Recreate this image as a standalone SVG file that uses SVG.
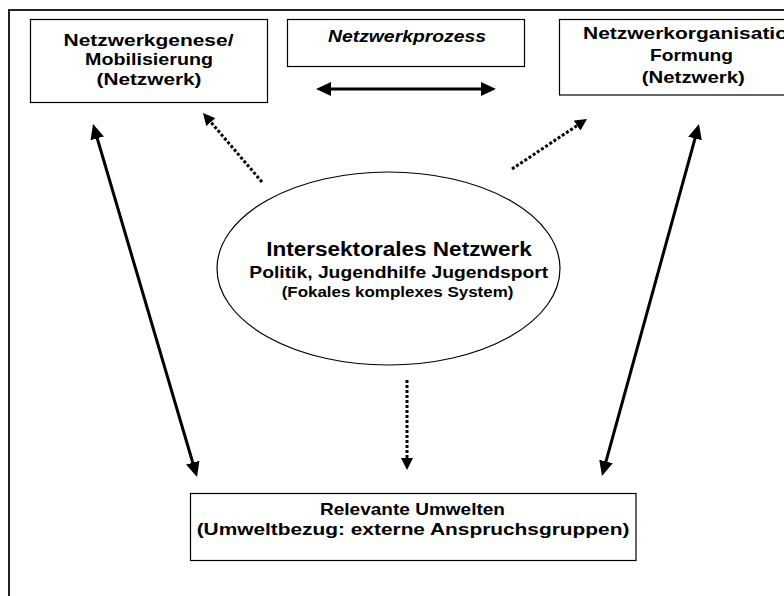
<svg xmlns="http://www.w3.org/2000/svg" width="784" height="596" viewBox="0 0 784 596">
  <style>
    .box { fill: #ffffff; stroke: #000000; stroke-width: 1.2; }
    .frame { fill: none; stroke: #222222; stroke-width: 2; }
    .lbl { font-family: "Liberation Sans", Arial, sans-serif; font-weight: bold; fill: #000000; text-anchor: middle; }
    .solid { stroke: #000000; stroke-width: 3; fill: none; }
    .dotted { stroke: #000000; stroke-width: 3; fill: none; stroke-dasharray: 3 2; }
  </style>
  <defs>
    <marker id="headSolid" markerUnits="userSpaceOnUse" markerWidth="15" markerHeight="14" viewBox="0 0 15 14" refX="3" refY="7" orient="auto-start-reverse">
      <path d="M0,0 L15,7 L0,14 z" fill="#000000"/>
    </marker>
    <marker id="headDot" markerUnits="userSpaceOnUse" markerWidth="12" markerHeight="12" viewBox="0 0 12 12" refX="2" refY="6" orient="auto">
      <path d="M0,0 L12,6 L0,12 z" fill="#000000"/>
    </marker>
  </defs>

  <rect width="784" height="596" fill="#ffffff"/>

  <!-- outer page frame (open to the right and bottom) -->
  <path class="frame" d="M9,596 L9,10 L784,10"/>

  <!-- top left: network genesis -->
  <g id="node-genese">
    <rect class="box" x="30.5" y="19.5" width="237" height="83"/>
    <text class="lbl" font-size="16.5" x="148.5" y="45.7" textLength="170" lengthAdjust="spacingAndGlyphs">Netzwerkgenese/</text>
    <text class="lbl" font-size="16.5" x="149" y="65" textLength="128" lengthAdjust="spacingAndGlyphs">Mobilisierung</text>
    <text class="lbl" font-size="16.5" x="149" y="85" textLength="105" lengthAdjust="spacingAndGlyphs">(Netzwerk)</text>
  </g>

  <!-- top middle: network process -->
  <g id="node-prozess">
    <rect class="box" x="287.5" y="19.5" width="237" height="47"/>
    <text class="lbl" font-size="16.5" font-style="italic" x="407" y="41.7" textLength="158" lengthAdjust="spacingAndGlyphs">Netzwerkprozess</text>
  </g>

  <!-- top right: network organisation (runs past the page edge) -->
  <g id="node-organisation">
    <rect class="box" x="559.5" y="19.5" width="270" height="75.5"/>
    <text class="lbl" font-size="16.5" x="583" y="39.3" textLength="205" lengthAdjust="spacingAndGlyphs" style="text-anchor:start">Netzwerkorganisatio</text>
    <text class="lbl" font-size="16.5" x="691.5" y="60.7" textLength="83" lengthAdjust="spacingAndGlyphs">Formung</text>
    <text class="lbl" font-size="16.5" x="693.3" y="82.7" textLength="103" lengthAdjust="spacingAndGlyphs">(Netzwerk)</text>
  </g>

  <!-- centre: focal intersectoral network -->
  <g id="node-netzwerk">
    <ellipse cx="388.5" cy="268.5" rx="171.5" ry="96.5" fill="#ffffff" stroke="#000000" stroke-width="1.2"/>
    <text class="lbl" font-size="20" x="399" y="256" textLength="265.7" lengthAdjust="spacingAndGlyphs">Intersektorales Netzwerk</text>
    <text class="lbl" font-size="17" x="398.8" y="278.3" textLength="299" lengthAdjust="spacingAndGlyphs">Politik, Jugendhilfe Jugendsport</text>
    <text class="lbl" font-size="14" x="397.5" y="296.7" textLength="231.7" lengthAdjust="spacingAndGlyphs">(Fokales komplexes System)</text>
  </g>

  <!-- bottom: relevant environments -->
  <g id="node-umwelten">
    <rect class="box" x="190.5" y="493.5" width="445.5" height="67"/>
    <text class="lbl" font-size="16.5" x="412.5" y="515" textLength="185" lengthAdjust="spacingAndGlyphs">Relevante Umwelten</text>
    <text class="lbl" font-size="16.5" x="413" y="535" textLength="432.7" lengthAdjust="spacingAndGlyphs">(Umweltbezug: externe Anspruchsgruppen)</text>
  </g>

  <!-- connectors -->
  <g id="connectors">
    <line class="solid" x1="328" y1="89" x2="484" y2="89" marker-start="url(#headSolid)" marker-end="url(#headSolid)"/>
    <line class="solid" x1="96.4" y1="135.5" x2="193.6" y2="465.5" marker-start="url(#headSolid)" marker-end="url(#headSolid)"/>
    <line class="solid" x1="695.8" y1="135.6" x2="605.2" y2="464.4" marker-start="url(#headSolid)" marker-end="url(#headSolid)"/>
    <line class="dotted" x1="262" y1="182" x2="209.5" y2="120.6" marker-end="url(#headDot)"/>
    <line class="dotted" x1="512" y1="169" x2="578.7" y2="124.5" marker-end="url(#headDot)"/>
    <line class="dotted" x1="407" y1="380" x2="407" y2="460" marker-end="url(#headDot)"/>
  </g>
</svg>
